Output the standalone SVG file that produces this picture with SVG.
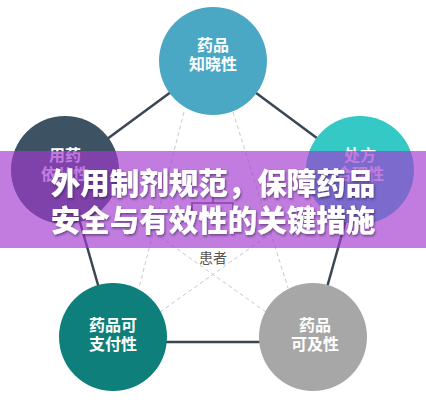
<svg xmlns="http://www.w3.org/2000/svg" width="426" height="400" viewBox="0 0 426 400">
  <defs>
    <style>
      .solid { stroke: #3b4652; stroke-width: 2.5; fill: none; }
      .dash { stroke: #c9c9c9; stroke-width: 1; stroke-dasharray: 4 3; fill: none; }
      .ntext { font-family: "Noto Sans CJK SC", "Noto Sans", sans-serif; font-weight: 700; font-size: 16px; fill: #ffffff; text-anchor: middle; }
      .title { font-family: "Noto Sans CJK SC", "Noto Sans", sans-serif; font-weight: 900; font-size: 29.5px; fill: #ffffff; text-anchor: middle; }
      .label { font-family: "Noto Sans CJK SC", "Noto Sans", sans-serif; font-size: 14px; fill: #555555; text-anchor: middle; }
    </style>
    <filter id="shadow" x="-10%" y="-30%" width="120%" height="160%">
      <feDropShadow dx="1" dy="1.5" stdDeviation="1" flood-color="#2a1a40" flood-opacity="0.6"/>
    </filter>
  </defs>
  <rect width="426" height="400" fill="#ffffff"/>

  <g id="connectors">
    <line class="dash" x1="184" y1="112" x2="139" y2="288"/>
    <line class="dash" x1="233" y1="112" x2="288" y2="288"/>
    <line class="dash" x1="160" y1="312" x2="318" y2="200"/>
    <line class="dash" x1="266" y1="312" x2="108" y2="200"/>
    <line class="solid" x1="213" y1="61" x2="65" y2="170"/>
    <line class="solid" x1="213" y1="61" x2="360" y2="170"/>
    <line class="solid" x1="65" y1="170" x2="113" y2="337"/>
    <line class="solid" x1="360" y1="170" x2="313" y2="337"/>
    <line class="solid" x1="113" y1="342" x2="313" y2="342"/>
  </g>

  <g id="node-top">
    <circle cx="213" cy="61" r="54" fill="#4aa8c4"/>
    <text class="ntext" x="213" y="51">药品</text>
    <text class="ntext" x="213" y="70">知晓性</text>
  </g>
  <g id="node-left">
    <circle cx="65" cy="170" r="54" fill="#3d5262"/>
    <text class="ntext" x="65" y="161">用药</text>
    <text class="ntext" x="65" y="180">依从性</text>
  </g>
  <g id="node-right">
    <circle cx="360" cy="170" r="54" fill="#34c9c5"/>
    <text class="ntext" x="360" y="161">处方</text>
    <text class="ntext" x="360" y="180">合理性</text>
  </g>
  <g id="node-bottom-left">
    <circle cx="113" cy="337" r="54" fill="#0e7f7b"/>
    <text class="ntext" x="113" y="331">药品可</text>
    <text class="ntext" x="113" y="350">支付性</text>
  </g>
  <g id="node-bottom-right">
    <circle cx="313" cy="337" r="54" fill="#a7a7a7"/>
    <text class="ntext" x="315" y="331">药品</text>
    <text class="ntext" x="315" y="350">可及性</text>
  </g>
  <g id="node-center">
    <path d="M213,188 V203 M192,226 V203 H233 V226" fill="none" stroke="#555555" stroke-width="1.5"/>
    <text class="label" x="213" y="263">患者</text>
  </g>

  <g id="banner">
    <rect x="0" y="151" width="426" height="97" fill="#a238d0" fill-opacity="0.66"/>
    <g filter="url(#shadow)">
      <text class="title" x="213" y="194">外用制剂规范，保障药品</text>
      <text class="title" x="213" y="231">安全与有效性的关键措施</text>
    </g>
  </g>
</svg>
